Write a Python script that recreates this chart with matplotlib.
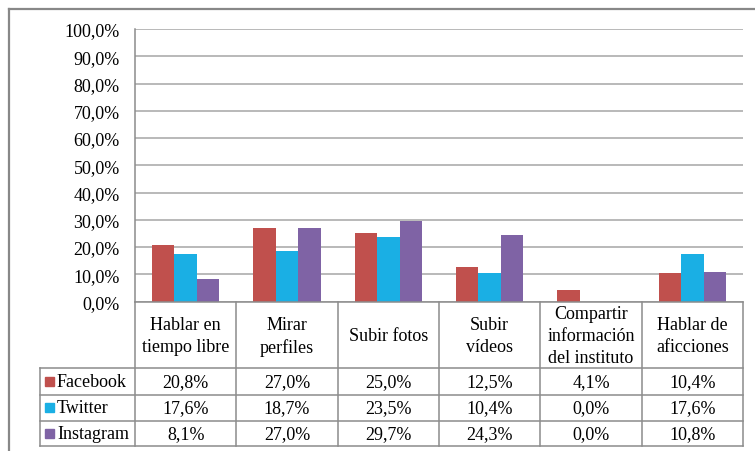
import matplotlib
matplotlib.use("Agg")
import matplotlib.pyplot as plt
import numpy as np
from matplotlib.ticker import FuncFormatter

categories = ["Hablar en\ntiempo libre", "Mirar\nperfiles", "Subir fotos",
              "Subir\nvídeos", "Compartir\ninformación\ndel instituto",
              "Hablar de\naficciones"]
series_names = ["Facebook", "Twitter", "Instagram"]
facebook = [20.8, 27.0, 25.0, 12.5, 4.1, 10.4]
twitter = [17.6, 18.7, 23.5, 10.4, 0.0, 17.6]
instagram = [8.1, 27.0, 29.7, 24.3, 0.0, 10.8]
y_ticks = [0, 10, 20, 30, 40, 50, 60, 70, 80, 90, 100]

COLORS = ["#C0504D", "#1AAFE4", "#7F63A5"]
GRID = "#A6A6A6"
LINE = "#8C8C8C"
FONT = "Liberation Serif"
FS = 13

W, H = 755, 452
# layout in pixels
AX_L, AX_R, AX_T, AX_B = 135, 743, 30, 302.5
ROWS = [369, 395.5, 421.5, 447]
TAB_L = 40

plt.rcParams["font.family"] = FONT
fig = plt.figure(figsize=(W / 100, H / 100), dpi=100)
ax = fig.add_axes([AX_L / W, 1 - AX_B / H, (AX_R - AX_L) / W, (AX_B - AX_T) / H])

values = [facebook, twitter, instagram]
x = np.arange(len(categories))
bw = 0.221
for i, (name, vals) in enumerate(zip(series_names, values)):
    ax.bar(x + (i - 1) * bw, vals, width=bw, color=COLORS[i], zorder=3)

ax.set_xlim(-0.5, len(categories) - 0.5)
ax.set_ylim(0, 100)
ax.set_yticks(y_ticks)
ax.yaxis.set_major_formatter(FuncFormatter(lambda v, p: f"{v:.1f}%".replace(".", ",")))
ax.tick_params(axis="y", length=0, pad=11, labelsize=FS)
ax.set_xticks([])
ax.grid(axis="y", color=GRID, lw=1.1, zorder=0)
for s in ("top", "right", "bottom"):
    ax.spines[s].set_visible(False)
ax.spines["left"].set_color(LINE)
ax.spines["left"].set_linewidth(1.1)

# overlay in pixel coordinates for the data table and the frame
ov = fig.add_axes([0, 0, 1, 1], zorder=5)
ov.set_xlim(0, W)
ov.set_ylim(H, 0)
ov.axis("off")
ov.patch.set_visible(False)

col_w = (AX_R - AX_L) / len(categories)
edges = [AX_L + k * col_w for k in range(len(categories) + 1)]

# frame
ov.plot([9, 9], [10, H], color="#888888", lw=1.6)
ov.plot([9, W], [10, 10], color="#888888", lw=1.6)

# table lines
ov.plot([AX_L, AX_R], [AX_B, AX_B], color=LINE, lw=1.1)
for e in edges:
    ov.plot([e, e], [AX_B, ROWS[-1]], color=LINE, lw=1.1)
ov.plot([TAB_L, TAB_L], [ROWS[0], ROWS[-1]], color=LINE, lw=1.1)
for r in ROWS:
    ov.plot([TAB_L, AX_R], [r, r], color=LINE, lw=1.1)

# header
for k, cat in enumerate(categories):
    ov.text((edges[k] + edges[k + 1]) / 2, (AX_B + ROWS[0]) / 2 + 1, cat,
            ha="center", va="center", fontsize=FS, linespacing=1.4,
            multialignment="center")

# rows
for i, (name, vals) in enumerate(zip(series_names, values)):
    yc = (ROWS[i] + ROWS[i + 1]) / 2
    ov.add_patch(plt.Rectangle((45, yc - 4.5), 9, 9, color=COLORS[i]))
    ov.text(57, yc, name, ha="left", va="center", fontsize=FS)
    for k, v in enumerate(vals):
        ov.text((edges[k] + edges[k + 1]) / 2, yc, f"{v:.1f}%".replace(".", ","),
                ha="center", va="center", fontsize=FS)

fig.savefig("out.png", dpi=100)
